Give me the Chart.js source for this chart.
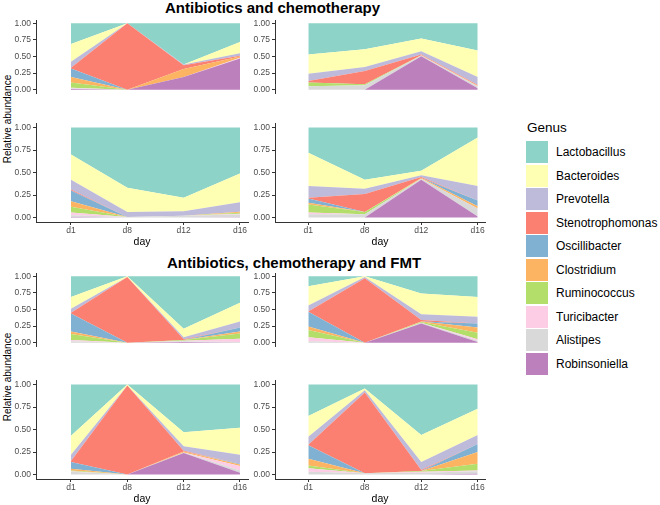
<!DOCTYPE html>
<html><head><meta charset="utf-8">
<script src="https://cdn.jsdelivr.net/npm/chart.js@4/dist/chart.umd.min.js"></script>
<style>
body{margin:0;width:660px;height:505px;position:relative;background:#fff;font-family:"Liberation Sans",Arial,sans-serif;overflow:hidden}
canvas{position:absolute}
.title{position:absolute;font-weight:bold;font-size:15px;line-height:15px;color:#000;white-space:nowrap}
.ytitle{position:absolute;font-size:10px;line-height:12px;color:#000;white-space:nowrap;transform:translate(-50%,-50%) rotate(-90deg)}
.lgtitle{position:absolute;left:527px;top:120px;font-size:13.5px;line-height:16px;color:#000}
.key{position:absolute;left:526px;width:22px;height:22px}
.klab{position:absolute;left:556px;font-size:12px;line-height:14px;color:#000;white-space:nowrap}
</style></head><body>
<div class="title" style="left:165px;top:0px">Antibiotics and chemotherapy</div>
<div class="title" style="left:167px;top:255px">Antibiotics, chemotherapy and FMT</div>
<div class="ytitle" style="left:8px;top:119px">Relative abundance</div>
<div class="ytitle" style="left:8px;top:377px">Relative abundance</div>
<div class="lgtitle">Genus</div>
<div id="legend"></div>
<script>
// ---- data ----
const days = ['d1', 'd8', 'd12', 'd16'];
const genera = ['Lactobacillus','Bacteroides','Prevotella','Stenotrophomonas','Oscillibacter','Clostridium','Ruminococcus','Turicibacter','Alistipes','Robinsoniella'];
const genusColors = ['#8DD3C7','#FFFFB3','#BEBADA','#FB8072','#80B1D3','#FDB462','#B3DE69','#FCCDE5','#D9D9D9','#BC80BD'];
const yTickValues = [0, 0.25, 0.5, 0.75, 1];
const groupTitles = ['Antibiotics and chemotherapy', 'Antibiotics, chemotherapy and FMT'];

// rows = genera (in order above), columns = days
const abxChemo1 = [
  [0.31, 0.00, 0.62, 0.28],
  [0.27, 0.00, 0.00, 0.17],
  [0.09, 0.00, 0.01, 0.04],
  [0.01, 1.00, 0.06, 0.01],
  [0.13, 0.00, 0.00, 0.00],
  [0.08, 0.00, 0.12, 0.02],
  [0.08, 0.00, 0.00, 0.00],
  [0.01, 0.00, 0.00, 0.01],
  [0.01, 0.00, 0.00, 0.00],
  [0.01, 0.00, 0.19, 0.47]
];
const abxChemo2 = [
  [0.47, 0.39, 0.23, 0.41],
  [0.29, 0.27, 0.19, 0.40],
  [0.11, 0.06, 0.05, 0.12],
  [0.02, 0.20, 0.01, 0.01],
  [0.00, 0.00, 0.00, 0.00],
  [0.00, 0.00, 0.005, 0.01],
  [0.06, 0.015, 0.00, 0.00],
  [0.00, 0.00, 0.00, 0.00],
  [0.05, 0.065, 0.01, 0.03],
  [0.00, 0.00, 0.505, 0.02]
];
const abxChemo3 = [
  [0.30, 0.67, 0.78, 0.51],
  [0.28, 0.27, 0.15, 0.32],
  [0.11, 0.055, 0.05, 0.107],
  [0.01, 0.00, 0.00, 0.00],
  [0.12, 0.00, 0.00, 0.00],
  [0.06, 0.00, 0.00, 0.01],
  [0.065, 0.00, 0.00, 0.01],
  [0.03, 0.00, 0.00, 0.01],
  [0.02, 0.005, 0.02, 0.03],
  [0.005, 0.00, 0.00, 0.003]
];
const abxChemo4 = [
  [0.28, 0.58, 0.48, 0.11],
  [0.37, 0.10, 0.05, 0.54],
  [0.13, 0.06, 0.02, 0.16],
  [0.01, 0.20, 0.01, 0.00],
  [0.045, 0.00, 0.00, 0.065],
  [0.02, 0.00, 0.01, 0.025],
  [0.09, 0.025, 0.00, 0.00],
  [0.02, 0.00, 0.00, 0.00],
  [0.035, 0.035, 0.01, 0.09],
  [0.00, 0.00, 0.42, 0.01]
];
const abxChemoFmt1 = [
  [0.31, 0.00, 0.79, 0.40],
  [0.18, 0.01, 0.13, 0.28],
  [0.06, 0.00, 0.03, 0.09],
  [0.01, 0.99, 0.01, 0.00],
  [0.27, 0.00, 0.00, 0.06],
  [0.04, 0.00, 0.00, 0.03],
  [0.09, 0.00, 0.01, 0.08],
  [0.02, 0.00, 0.01, 0.05],
  [0.02, 0.00, 0.01, 0.01],
  [0.00, 0.00, 0.01, 0.00]
];
const abxChemoFmt2 = [
  [0.15, 0.00, 0.26, 0.31],
  [0.29, 0.01, 0.31, 0.30],
  [0.09, 0.02, 0.09, 0.10],
  [0.005, 0.97, 0.02, 0.00],
  [0.22, 0.00, 0.00, 0.06],
  [0.055, 0.00, 0.01, 0.08],
  [0.11, 0.00, 0.01, 0.10],
  [0.06, 0.00, 0.00, 0.02],
  [0.02, 0.00, 0.01, 0.02],
  [0.00, 0.00, 0.29, 0.01]
];
const abxChemoFmt3 = [
  [0.57, 0.00, 0.53, 0.48],
  [0.21, 0.01, 0.155, 0.30],
  [0.07, 0.00, 0.05, 0.10],
  [0.01, 0.99, 0.01, 0.00],
  [0.075, 0.00, 0.00, 0.01],
  [0.02, 0.00, 0.01, 0.015],
  [0.01, 0.00, 0.00, 0.00],
  [0.005, 0.00, 0.00, 0.05],
  [0.03, 0.00, 0.005, 0.025],
  [0.00, 0.00, 0.24, 0.02]
];
const abxChemoFmt4 = [
  [0.35, 0.045, 0.56, 0.27],
  [0.23, 0.02, 0.30, 0.29],
  [0.09, 0.025, 0.09, 0.10],
  [0.005, 0.895, 0.01, 0.00],
  [0.15, 0.00, 0.00, 0.09],
  [0.075, 0.00, 0.00, 0.13],
  [0.03, 0.00, 0.01, 0.075],
  [0.04, 0.00, 0.01, 0.01],
  [0.03, 0.015, 0.02, 0.027],
  [0.00, 0.00, 0.00, 0.008]
];

// ---- layout ----
const cols = {
  L: {left: 0, width: 260, yW: 36, min: 0.379, max: 4.142},
  R: {left: 240, width: 257, yW: 35, min: 0.41, max: 4.129}
};
const rows = {
  g1top: {top: 12, height: 115, showX: false},
  g1bot: {top: 115, height: 133, showX: true},
  g2top: {top: 265, height: 115, showX: false},
  g2bot: {top: 372, height: 133, showX: true}
};
const panels = [
  [abxChemo1, 'L', 'g1top'], [abxChemo2, 'R', 'g1top'],
  [abxChemo3, 'L', 'g1bot'], [abxChemo4, 'R', 'g1bot'],
  [abxChemoFmt1, 'L', 'g2top'], [abxChemoFmt2, 'R', 'g2top'],
  [abxChemoFmt3, 'L', 'g2bot'], [abxChemoFmt4, 'R', 'g2bot']
];

const FONT = '"Liberation Sans", Arial, sans-serif';
const axisColor = '#333333';

function makePanel(values, colKey, rowKey) {
  const c = cols[colKey], r = rows[rowKey];
  const cv = document.createElement('canvas');
  cv.width = c.width; cv.height = r.height;
  cv.style.left = c.left + 'px'; cv.style.top = r.top + 'px';
  cv.style.width = c.width + 'px'; cv.style.height = r.height + 'px';
  document.body.appendChild(cv);
  const datasets = [];
  for (let k = genera.length - 1; k >= 0; k--) {
    datasets.push({
      label: genera[k],
      data: days.map((d, j) => ({x: j + 1, y: values[k][j]})),
      backgroundColor: genusColors[k],
      borderColor: genusColors[k],
      borderWidth: 0,
      pointRadius: 0,
      tension: 0,
      fill: datasets.length === 0 ? 'origin' : '-1'
    });
  }
  new Chart(cv, {
    type: 'line',
    data: {datasets},
    options: {
      responsive: false, animation: false, events: [],
      layout: {padding: {top: 8, right: 12, left: 0, bottom: r.showX ? 0 : 8}},
      plugins: {legend: {display: false}, tooltip: {enabled: false}},
      scales: {
        x: {
          type: 'linear', min: c.min, max: c.max, display: r.showX,
          afterBuildTicks: s => { s.ticks = days.map((d, j) => ({value: j + 1})); },
          afterFit: s => { s.height = 26; },
          ticks: {callback: v => days[Math.round(v) - 1], color: '#4d4d4d', font: {family: FONT, size: 8.5}, padding: 1, maxRotation: 0, autoSkip: false},
          grid: {display: true, drawOnChartArea: false, drawTicks: true, tickLength: 3, color: axisColor},
          border: {display: true, color: axisColor, width: 1},
          title: {display: true, text: 'day', color: '#000', font: {family: FONT, size: 10.5}, padding: 0}
        },
        y: {
          stacked: true, min: -0.05, max: 1.05,
          afterBuildTicks: s => { s.ticks = yTickValues.map(v => ({value: v})); },
          afterFit: s => { s.width = c.yW; },
          ticks: {callback: v => v.toFixed(2), color: '#4d4d4d', font: {family: FONT, size: 8.5}, padding: 2},
          grid: {display: true, drawOnChartArea: false, drawTicks: true, tickLength: 3, color: axisColor},
          border: {display: true, color: axisColor, width: 1}
        }
      }
    }
  });
}
panels.forEach(p => makePanel(p[0], p[1], p[2]));

// legend
const lg = document.getElementById('legend');
genera.forEach((g, i) => {
  const top = 141 + 23.55 * i;
  const k = document.createElement('div');
  k.className = 'key'; k.style.top = top + 'px'; k.style.background = genusColors[i];
  lg.appendChild(k);
  const t = document.createElement('div');
  t.className = 'klab'; t.style.top = (top + 4) + 'px'; t.textContent = g;
  lg.appendChild(t);
});
</script>
</body></html>
